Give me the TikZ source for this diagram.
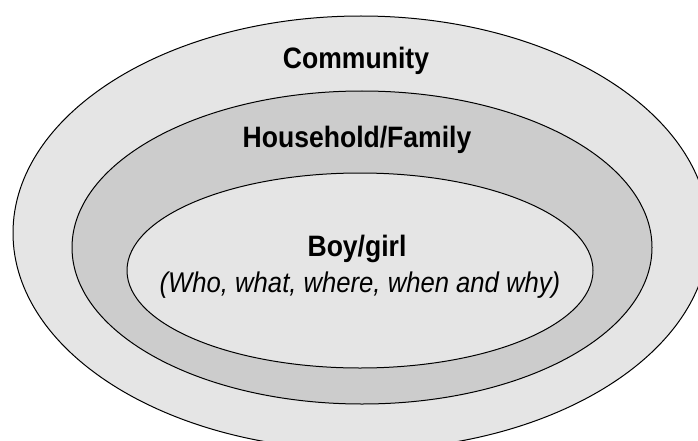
\documentclass[tikz,border=0pt]{standalone}
\usepackage{fontspec}
\newfontfamily\labfont[FakeStretch=0.9]{Liberation Sans}
\definecolor{lightfill}{gray}{0.9}
\definecolor{midfill}{gray}{0.8}
\tikzset{
  ring/.style={draw=black, line width=1pt},
  title/.style={font=\labfont\bfseries\fontsize{29.5}{34}\selectfont, anchor=base, inner sep=0pt},
  subtitle/.style={font=\labfont\itshape\fontsize{28.5}{33}\selectfont, anchor=base, inner sep=0pt}
}
\begin{document}
\begin{tikzpicture}[x=1pt, y=-1pt]
\useasboundingbox (0,0) rectangle (698,441);
\clip (0,0) rectangle (698,441);
\fill[white] (0,0) rectangle (698,441);
\draw[ring, fill=lightfill] (361,233) ellipse [x radius=348, y radius=217];
\draw[ring, fill=midfill] (362,247.5) ellipse [x radius=290, y radius=156.5];
\draw[ring, fill=lightfill] (360,270.5) ellipse [x radius=233, y radius=97.5];
\node[title] (community) at (356,69) {Community};
\node[title] (household) at (357,147) {Household/Family};
\node[title] (boygirl) at (357,256) {Boy/girl};
\node[subtitle] (questions) at (360,292) {(Who, what, where, when and why)};
\end{tikzpicture}
\end{document}
